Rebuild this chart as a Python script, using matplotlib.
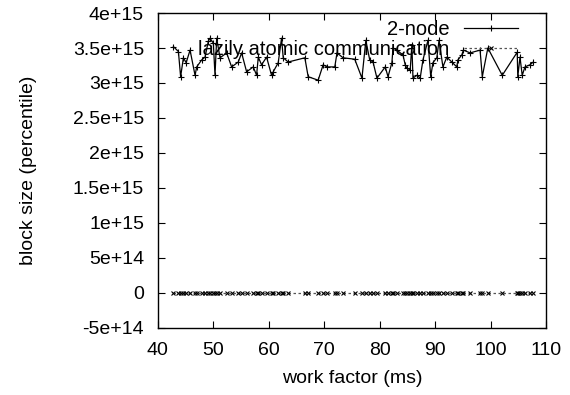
import matplotlib
matplotlib.use("Agg")
import matplotlib.pyplot as plt

plt.rcParams['font.family'] = ['Liberation Sans', 'DejaVu Sans']

x_vals = [42.8, 43.7, 44.1, 44.6, 45.1, 45.8, 46.7, 47.0, 47.9, 48.5, 49.1, 49.4, 50.0, 50.3, 50.6,
          51.2, 52.4, 53.3, 54.5, 55.1, 56.0, 57.2, 57.8, 58.1, 58.7, 59.6, 60.5, 60.8, 61.7, 62.3,
          62.6, 63.5, 66.5, 67.1, 68.9, 69.8, 70.5, 71.9, 72.3, 73.4, 75.5, 76.8, 77.5, 78.2, 78.8,
          79.5, 81.0, 81.5, 82.2, 82.4, 83.1, 84.2, 84.6, 84.9, 85.5, 85.8, 86.0, 86.7, 87.3, 87.8,
          88.7, 89.2, 89.6, 90.3, 90.7, 91.4, 92.1, 93.0, 93.9, 94.1, 94.8, 95.1, 96.3, 98.1, 98.5,
          99.5, 102.1, 104.8, 104.9, 105.3, 105.7, 106.2, 107.1, 107.7]
node2_vals = [3.52, 3.45, 3.09, 3.36, 3.29, 3.47, 3.11, 3.23, 3.33, 3.37, 3.60, 3.64, 3.57, 3.11, 3.64,
              3.36, 3.43, 3.23, 3.30, 3.43, 3.16, 3.23, 3.11, 3.37, 3.26, 3.37, 3.11, 3.16, 3.29, 3.64,
              3.36, 3.30, 3.36, 3.09, 3.04, 3.26, 3.23, 3.23, 3.43, 3.36, 3.34, 3.07, 3.61, 3.33, 3.30,
              3.07, 3.23, 3.09, 3.29, 3.50, 3.47, 3.40, 3.26, 3.21, 3.19, 3.54, 3.07, 3.11, 3.07, 3.33,
              3.61, 3.09, 3.29, 3.36, 3.61, 3.23, 3.37, 3.30, 3.23, 3.33, 3.40, 3.47, 3.43, 3.47, 3.09,
              3.50, 3.11, 3.44, 3.09, 3.37, 3.11, 3.23, 3.26, 3.30]
node2_vals = [v * 1e15 for v in node2_vals]
lazy_vals = [0.0] * len(x_vals)

series_labels = ["2-node", "lazily atomic communication"]
x_ticks = [40, 50, 60, 70, 80, 90, 100, 110]
y_ticks = [-5e14, 0, 5e14, 1e15, 1.5e15, 2e15, 2.5e15, 3e15, 3.5e15, 4e15]
y_tick_labels = ["-5e+14", "0", "5e+14", "1e+15", "1.5e+15", "2e+15", "2.5e+15", "3e+15", "3.5e+15", "4e+15"]

fig = plt.figure(figsize=(5.7, 3.95), dpi=100)
ax = fig.add_axes([0.277, 0.170, 0.681, 0.797])

ax.plot(x_vals, node2_vals, color='black', linewidth=0.9, marker='+', markersize=4,
        markeredgewidth=0.8, label=series_labels[0])
ax.plot(x_vals, lazy_vals, color='#555555', linewidth=0.9, linestyle=(0, (2, 2)), marker='x',
        markersize=3.5, markeredgecolor='black', markeredgewidth=0.8, label=series_labels[1])

ax.set_xlim(40, 110)
ax.set_ylim(-5e14, 4e15)
ax.set_xticks(x_ticks)
ax.set_yticks(y_ticks)
ax.set_yticklabels(y_tick_labels)
ax.tick_params(direction='in', top=True, right=True, length=5, width=0.8, labelsize=14)
ax.tick_params(axis='y', pad=10)
ax.tick_params(axis='x', pad=10)
for s in ax.spines.values():
    s.set_linewidth(1.0)

ax.set_xlabel("work factor (ms)", fontsize=14, labelpad=8)
ax.set_ylabel("block size (percentile)", fontsize=14, labelpad=26)

leg = ax.legend(loc='upper right', bbox_to_anchor=(0.938, 0.99), frameon=False, markerfirst=False,
                fontsize=14.5, handlelength=2.7, handletextpad=0.7, labelspacing=0.05,
                borderpad=0.2, borderaxespad=0.0)
for t in leg.get_texts():
    t.set_ha('right')

fig.savefig("out.png", dpi=100)
